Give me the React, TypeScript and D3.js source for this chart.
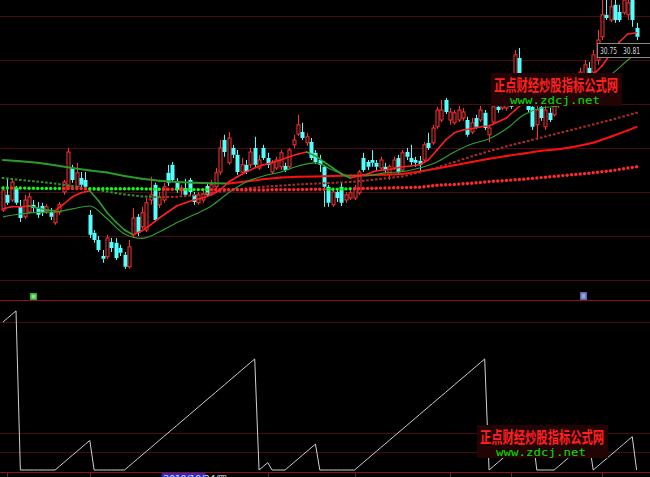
import React from 'react';
import * as d3 from 'd3';

const W = 650;
const H = 477;

// [open, close, high, low]
const candles: [number, number, number, number][] = [
  [26.45,26.95,27.05,26.40],[26.83,26.63,27.25,26.58],[26.70,27.15,27.20,26.65],[27.00,26.63,27.05,26.58],
  [26.53,26.25,26.70,26.15],[26.28,26.70,26.83,26.23],[26.40,26.78,26.88,26.35],[26.58,26.50,26.70,26.38],
  [26.50,26.33,26.65,26.25],[26.55,26.38,26.63,26.30],[26.40,26.53,26.60,26.35],[26.40,26.28,26.50,26.20],
  [26.13,26.40,26.45,26.08],[26.40,26.58,26.65,26.33],[26.90,27.15,27.20,26.83],[27.03,27.90,28.00,26.95],
  [27.50,27.20,27.58,27.13],[27.03,27.38,27.63,26.98],[27.25,27.08,27.40,27.00],[27.20,27.03,27.40,26.95],
  [26.33,25.83,26.45,25.75],[25.88,25.70,25.95,25.63],[25.70,25.45,25.80,25.40],[25.30,25.23,25.45,25.13],
  [25.28,25.75,25.83,25.23],[25.65,25.50,25.75,25.40],[25.63,25.25,25.75,25.20],[25.50,25.38,25.58,25.30],
  [25.33,25.03,25.40,24.98],[25.03,25.53,25.70,24.98],[25.83,26.25,26.50,25.75],[26.28,25.88,26.35,25.80],
  [26.03,26.38,26.53,25.98],[25.95,26.63,26.75,25.90],[26.70,26.83,27.28,26.58],[27.08,26.20,27.13,26.15],
  [26.58,26.78,26.90,26.50],[26.70,27.03,27.13,26.63],[27.38,27.13,27.58,27.05],[27.58,27.20,27.65,27.15],
  [27.15,26.95,27.25,26.88],[26.93,27.00,27.08,26.83],[27.00,26.83,27.23,26.78],[27.20,26.90,27.25,26.83],
  [26.83,26.65,26.90,26.58],[26.63,26.83,26.90,26.58],[26.70,26.85,26.95,26.63],[27.05,26.83,27.15,26.78],
  [26.88,27.08,27.20,26.83],[27.03,27.38,27.50,26.98],[27.40,28.00,28.20,27.33],[28.20,27.90,28.33,27.78],
  [27.63,28.25,28.40,27.58],[28.00,27.83,28.08,27.75],[27.83,27.40,27.95,27.33],[27.40,27.58,27.75,27.35],
  [27.58,27.40,27.70,27.35],[27.58,27.90,28.00,27.50],[28.00,27.58,28.28,27.50],[27.50,27.70,27.83,27.45],
  [28.00,27.75,28.08,27.70],[27.75,27.58,27.88,27.50],[27.40,27.65,27.70,27.35],[27.50,27.70,27.78,27.45],
  [27.53,27.88,27.95,27.45],[27.55,27.45,27.63,27.40],[27.53,27.95,28.00,27.48],[28.08,28.20,28.33,28.00],
  [28.35,28.58,28.83,28.30],[28.40,28.25,28.63,28.20],[28.13,28.28,28.38,28.05],[28.15,27.75,28.25,27.70],
  [27.88,27.65,27.95,27.60],[27.70,27.58,27.83,27.40],[27.53,27.03,27.58,26.53],[27.03,26.63,27.08,26.53],
  [26.58,26.90,27.00,26.53],[26.90,26.75,27.00,26.65],[27.03,26.63,27.13,26.55],[26.70,26.83,26.90,26.63],
  [26.75,26.88,26.95,26.70],[26.75,27.00,27.08,26.70],[26.88,27.40,27.45,26.83],[27.75,27.45,27.88,27.40],
  [27.65,27.53,27.70,27.45],[27.70,27.63,27.95,27.53],[27.63,27.53,27.70,27.45],[27.50,27.70,27.78,27.45],
  [27.53,27.45,27.63,27.38],[27.33,27.53,27.58,27.20],[27.50,27.70,27.78,27.45],[27.75,27.40,27.83,27.35],
  [27.45,27.88,27.95,27.40],[27.90,27.78,28.00,27.70],[27.75,27.65,28.08,27.58],[27.70,27.63,27.78,27.53],
  [27.68,27.58,27.80,27.40],[27.70,28.08,28.15,27.65],[28.13,28.00,28.38,27.95],[28.13,28.50,28.58,28.08],
  [28.53,28.95,29.03,28.48],[28.70,28.95,29.20,28.65],[29.20,28.90,29.25,28.85],[28.70,28.90,29.00,28.58],
  [28.63,28.88,28.95,28.58],[28.70,28.95,29.05,28.65],[28.75,28.90,29.00,28.68],[28.70,28.33,28.78,28.28],
  [28.40,28.63,28.75,28.35],[28.75,28.53,28.83,28.48],[28.70,28.95,29.05,28.65],[28.88,28.50,28.95,28.45],
  [28.33,28.50,28.58,28.15],[28.65,29.03,29.13,28.60],[29.03,28.95,29.13,28.88],[29.00,29.08,29.15,28.95],
  [29.00,29.13,29.20,28.93],[29.20,29.03,29.28,28.98],[29.33,30.33,30.45,29.25],[30.25,29.45,30.50,29.33],
  [29.70,29.20,29.83,29.13],[29.33,28.95,29.45,28.88],[29.03,28.53,29.13,28.45],[28.58,28.95,29.08,28.20],
  [29.03,28.75,29.13,28.68],[28.53,28.95,29.05,28.45],[28.88,28.70,29.00,28.65],[28.83,29.20,29.33,28.78],
  [29.08,29.40,29.50,29.00],[29.45,29.20,29.58,29.13],[29.25,29.58,29.70,29.20],[29.40,29.75,29.85,29.33],
  [29.70,29.50,29.80,29.40],[29.55,29.90,30.00,29.50],[29.70,30.08,30.20,29.63],[30.00,29.80,30.15,29.70],
  [29.90,30.33,30.45,29.83],[30.20,30.70,30.95,30.08],[30.78,31.33,31.70,30.70],[31.33,31.25,31.70,31.20],
  [31.20,31.53,31.70,31.15],[31.58,31.20,31.70,31.13],[31.40,31.20,31.58,31.15],[31.38,31.70,31.75,31.33],
  [31.33,31.63,31.75,31.20],[31.72,31.20,31.80,31.03],[31.00,30.78,31.13,30.70],
];

// short MA, sampled every 2 bars
const maShort = [
  26.48,26.53,26.53,26.55,26.50,26.45,26.43,26.60,26.78,26.88,26.93,26.68,26.38,26.15,25.95,25.83,25.93,26.08,
  26.25,26.40,26.55,26.63,26.70,26.75,26.83,26.95,27.15,27.28,27.40,27.50,27.58,27.63,27.70,27.78,27.85,27.90,
  27.80,27.65,27.50,27.35,27.25,27.30,27.35,27.43,27.45,27.48,27.53,27.55,27.58,27.70,27.95,28.20,28.38,28.45,
  28.48,28.53,28.55,28.65,28.75,28.95,29.13,29.18,29.10,29.08,29.18,29.38,29.55,29.70,29.83,30.05,30.35,30.65,
  30.85,30.88,
];
// the following are sampled every 4 bars, plus the last bar
const maMid = [
  26.28,26.35,26.39,26.40,26.48,26.55,26.23,25.85,25.74,25.90,26.13,26.33,26.55,26.88,27.15,27.30,27.40,27.55,
  27.63,27.45,27.30,27.31,27.38,27.41,27.50,27.65,27.90,28.10,28.23,28.48,28.83,29.00,29.05,29.33,29.58,29.83,
  30.20,30.38,
];
const maLong = [
  27.70,27.67,27.63,27.57,27.50,27.44,27.39,27.30,27.23,27.18,27.15,27.13,27.12,27.11,27.16,27.22,27.26,27.28,
  27.29,27.30,27.31,27.32,27.33,27.35,27.41,27.49,27.57,27.65,27.73,27.80,27.86,27.93,27.97,28.04,28.13,28.28,
  28.44,28.53,
];
const maDash = [
  27.25,27.20,27.16,27.11,27.05,26.98,26.91,26.84,26.79,26.77,26.78,26.82,26.88,26.94,26.99,27.03,27.06,27.09,
  27.11,27.13,27.15,27.19,27.24,27.29,27.39,27.51,27.65,27.79,27.92,28.04,28.15,28.26,28.37,28.48,28.59,28.70,
  28.82,28.88,
];
const maDots = [
  27.00,27.00,26.99,26.99,26.99,26.98,26.98,26.98,26.98,26.97,26.97,26.96,26.96,26.96,26.95,26.95,26.96,26.96,
  26.97,26.97,26.98,26.99,27.00,27.01,27.02,27.07,27.09,27.12,27.16,27.19,27.22,27.26,27.30,27.34,27.38,27.43,
  27.50,27.53,
];

// lower indicator: bars counter
const counter = [
  40,41,42,43,0,0,0,0,0,0,0,0,0,1,2,3,4,5,6,7,8,0,0,0,0,0,0,0,0,
  1,2,3,4,5,6,7,8,9,10,11,12,13,14,15,16,17,18,19,20,21,22,23,24,25,26,27,28,29,30,
  0,1,2,0,0,0,0,1,2,3,4,5,6,7,0,0,0,0,0,0,0,0,0,
  1,2,3,4,5,6,7,8,9,10,11,12,13,14,15,16,17,18,19,20,21,22,23,24,25,26,27,28,29,30,
  0,1,2,3,4,5,6,7,8,9,10,0,0,0,0,0,1,2,3,4,5,6,7,8,0,1,2,3,4,5,6,7,8,9,0,
];
const counterGrid = [5, 10, 40];

const priceLabels = ['30.75', '30.81'];
const watermarkCn = '正点财经炒股指标公式网';
const watermarkUrl = 'www.zdcj.net';
const dateLabel = '2019/10/24/四';
const axisTickBars = [1, 20, 61, 81, 103, 117, 138];
const dateBar = 37;

const UP = '#ff3232';
const DOWN = '#54ffff';
const GRID = '#4a0a12';
const DIV = '#8c1020';

function Watermark({ x0, y0 }: { x0: number; y0: number }) {
  return (
    <g>
      <rect x={x0} y={y0} width={131} height={33} fill="#230404" />
      <text x={x0 + 3} y={y0 + 18} fontSize={16} fontWeight="bold" fill="#ff2020"
        fontFamily="'Noto Sans CJK SC', sans-serif" textLength={124} lengthAdjust="spacingAndGlyphs">
        {watermarkCn}
      </text>
      <text x={x0 + 19} y={y0 + 31} fontSize={11} fill="#00e000"
        fontFamily="'DejaVu Sans Mono', monospace" textLength={90} lengthAdjust="spacingAndGlyphs">
        {watermarkUrl}
      </text>
    </g>
  );
}

export default function App() {
  const n = candles.length;
  const x = d3.scaleLinear().domain([0, n - 1]).range([3, 636.6]);
  const y = d3.scaleLinear().domain([24.2, 31.7]).range([300, 0]);
  const yc = d3.scaleLinear().domain([0, 46]).range([470, 299.8]);
  const shortIdx = d3.range(0, n, 2);
  const sparseIdx = [...d3.range(0, n - 2, 4), n - 1];

  const segs = (idx: number[], vals: number[], up: string, down: string) =>
    vals.slice(1).map((v, k) => ({
      x1: x(idx[k]), y1: y(vals[k]), x2: x(idx[k + 1]), y2: y(v),
      c: v >= vals[k] ? up : down,
    }));

  const shortSegs = segs(shortIdx, maShort, '#ff2020', '#2fa02f');
  const longSegs = segs(sparseIdx, maLong, '#ff1010', '#2a9a2a');
  const midLine = d3.line<number>().x((_, k) => x(sparseIdx[k])).y((v) => y(v)).curve(d3.curveMonotoneX)(maMid) || '';

  const dashF = d3.scaleLinear().domain(sparseIdx).range(maDash);
  const dotF = d3.scaleLinear().domain(sparseIdx).range(maDots);
  const cntLine = d3.line<number>().x((_, i) => x(i)).y((v) => yc(v))(counter) || '';

  const gridMain = d3.range(7).map((k) => 16.5 + k * 44);
  const bw = 3;

  return (
    <svg width={W} height={H} style={{ position: 'absolute', left: 0, top: 0, display: 'block', background: '#000' }}>
      <defs>
        <clipPath id="mainClip"><rect x={0} y={0} width={W} height={300} /></clipPath>
      </defs>
      <rect x={0} y={0} width={W} height={H} fill="#000" />
      {gridMain.map((g) => (
        <line key={g} x1={0} x2={W} y1={g} y2={g} stroke={GRID} strokeWidth={1} />
      ))}
      {counterGrid.map((v) => (
        <line key={v} x1={0} x2={W} y1={Math.round(yc(v)) + 0.5} y2={Math.round(yc(v)) + 0.5} stroke={GRID} strokeWidth={1} />
      ))}
      <line x1={0} x2={W} y1={300.5} y2={300.5} stroke={DIV} strokeWidth={1} />
      <line x1={0} x2={W} y1={472.5} y2={472.5} stroke={DIV} strokeWidth={1} />

      <g clipPath="url(#mainClip)">
        {/* candles */}
        {candles.map(([o, c, h, l], i) => {
          const cx = Math.round(x(i)) + 0.5;
          const up = c >= o;
          const top = y(Math.max(o, c));
          const bot = y(Math.min(o, c));
          const col = up ? UP : DOWN;
          return (
            <g key={i}>
              <line x1={cx} x2={cx} y1={y(h)} y2={top} stroke={col} strokeWidth={1} />
              <line x1={cx} x2={cx} y1={bot} y2={y(l)} stroke={col} strokeWidth={1} />
              {up ? (
                <rect x={cx - bw / 2} y={top} width={bw} height={Math.max(1, bot - top)} fill="#000" stroke={col} strokeWidth={1} />
              ) : (
                <rect x={cx - bw / 2 - 0.5} y={top} width={bw + 1} height={Math.max(1, bot - top)} fill={col} />
              )}
            </g>
          );
        })}
        {/* long thick MA */}
        {longSegs.map((s, k) => (
          <line key={'l' + k} x1={s.x1} y1={s.y1} x2={s.x2} y2={s.y2} stroke={s.c} strokeWidth={2} strokeLinecap="round" />
        ))}
        {/* dashed MA */}
        {candles.map((_, i) => {
          const v = dashF(i);
          const rising = dashF(Math.min(n - 1, i + 1)) - dashF(Math.max(0, i - 1)) >= 0;
          return (
            <rect key={'d' + i} x={x(i) - 1.3} y={y(v) - 1} width={2.6} height={2}
              fill={rising ? '#b02c2c' : '#2e922e'} />
          );
        })}
        {/* mid MA */}
        <path d={midLine} fill="none" stroke="#2e9e2e" strokeWidth={1.2} />
        {/* short MA */}
        {shortSegs.map((s, k) => (
          <line key={'s' + k} x1={s.x1} y1={s.y1} x2={s.x2} y2={s.y2} stroke={s.c} strokeWidth={1.6} strokeLinecap="round" />
        ))}
        {/* big dots */}
        {candles.map((cd, i) => {
          const v = dotF(i);
          return (
            <circle key={'o' + i} cx={x(i)} cy={y(v)} r={1.7} fill={cd[1] >= v ? '#ff2a2a' : '#10ff10'} />
          );
        })}
      </g>

      {/* price readout */}
      <rect x={597.5} y={43.5} width={60} height={14} fill="#000" stroke="#8a8a8a" strokeWidth={1} />
      <text x={600} y={53.5} fontSize={8} fill="#d8d8d8" fontFamily="'DejaVu Sans', sans-serif"
        textLength={17} lengthAdjust="spacingAndGlyphs">{priceLabels[0]}</text>
      <text x={623} y={53.5} fontSize={8} fill="#d8d8d8" fontFamily="'DejaVu Sans', sans-serif"
        textLength={17} lengthAdjust="spacingAndGlyphs">{priceLabels[1]}</text>

      <Watermark x0={491} y0={73} />

      {/* markers */}
      <rect x={30} y={293} width={7} height={7} fill="#2fb02f" />
      <rect x={31.5} y={294.5} width={4} height={4} fill="#8fe08f" />
      <rect x={580} y={292} width={7} height={8} fill="#5a66a8" />
      <rect x={581.5} y={293.5} width={4} height={5} fill="#9aa4d8" />

      {/* lower indicator */}
      <path d={cntLine} fill="none" stroke="#d0d0d0" strokeWidth={1} />
      <Watermark x0={477} y0={425} />

      {/* bottom axis */}
      {axisTickBars.map((b) => (
        <line key={b} x1={Math.round(x(b)) + 0.5} x2={Math.round(x(b)) + 0.5} y1={473} y2={477} stroke="#7a2020" strokeWidth={1} />
      ))}
      <rect x={x(dateBar) - 2} y={473} width={44} height={6} fill="#2a2ac8" />
      <text x={x(dateBar)} y={482} fontSize={9} fill="#e0e0ff" fontFamily="'DejaVu Sans', sans-serif">{dateLabel}</text>
    </svg>
  );
}
